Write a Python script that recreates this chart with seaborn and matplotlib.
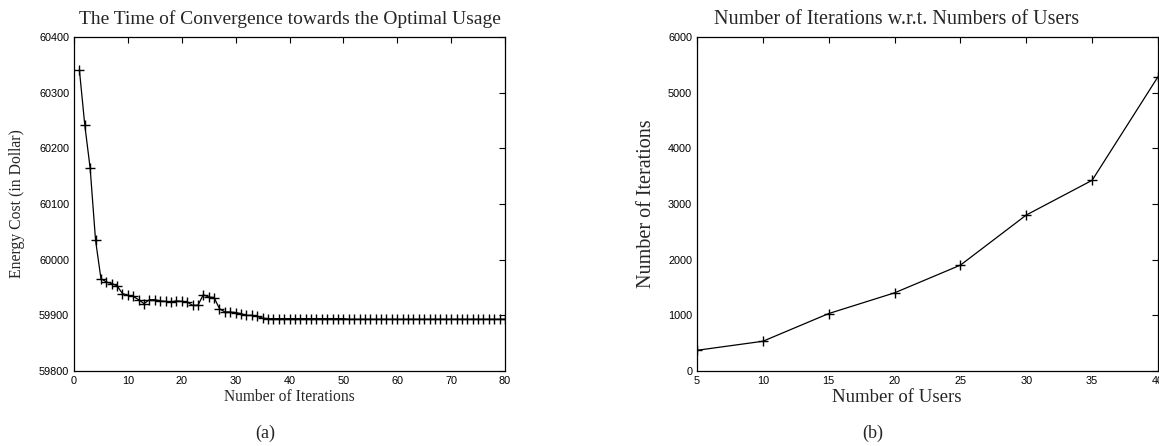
import matplotlib
matplotlib.use("Agg")
import matplotlib.pyplot as plt
import seaborn as sns
import numpy as np
import pandas as pd

# ---- data (a) ----
iterations = list(range(1, 81))
energy_cost = [60341, 60242, 60164, 60035, 59966, 59960, 59957, 59953, 59939, 59936,
               59934, 59928, 59921, 59928, 59928, 59926, 59925, 59924, 59926, 59925,
               59924, 59918, 59918, 59937, 59933, 59932, 59912, 59906, 59906, 59905,
               59903, 59900, 59900, 59898, 59895] + [59894] * 15 + [59893] * 30

# ---- data (b) ----
users = [5, 10, 15, 20, 25, 30, 35, 40]
num_iterations = [372, 534, 1032, 1404, 1902, 2802, 3426, 5286]

left_xticks = [0, 10, 20, 30, 40, 50, 60, 70, 80]
left_yticks = [59800, 59900, 60000, 60100, 60200, 60300, 60400]
right_xticks = [5, 10, 15, 20, 25, 30, 35, 40]
right_yticks = [0, 1000, 2000, 3000, 4000, 5000, 6000]

sns.set_theme(style="white")
plt.rcParams['font.family'] = ['Liberation Sans', 'DejaVu Sans']

W, H = 1159, 446
fig = plt.figure(figsize=(W / 100, H / 100), dpi=100)

def px_axes(x0, x1, y0, y1):
    return fig.add_axes([x0 / W, (H - y1) / H, (x1 - x0) / W, (y1 - y0) / H])

ax1 = px_axes(74, 505, 37, 371)
ax2 = px_axes(697, 1158, 37, 371)

df1 = pd.DataFrame({"it": iterations, "cost": energy_cost})
df2 = pd.DataFrame({"users": users, "iters": num_iterations})

common = dict(color="black", linewidth=0.9, marker="+", markersize=7.5,
              markeredgewidth=1.0, markeredgecolor="black")
sns.lineplot(data=df1, x="it", y="cost", ax=ax1, **common)
sns.lineplot(data=df2, x="users", y="iters", ax=ax2, **common)

serif = ['Liberation Serif', 'DejaVu Serif']

for ax in (ax1, ax2):
    ax.tick_params(direction="in", top=True, right=True, length=4, width=0.8,
                   labelsize=7.8, pad=3.5, colors="black")
    for s in ax.spines.values():
        s.set_color("black")
        s.set_linewidth(0.9)
    ax.grid(False)

ax1.set_xlim(0, 80)
ax1.set_ylim(59800, 60400)
ax1.set_xticks(left_xticks)
ax1.set_yticks(left_yticks)
ax1.set_xlabel("Number of Iterations", family=serif, fontsize=11.2, labelpad=2)
ax1.set_ylabel("Energy Cost (in Dollar)", family=serif, fontsize=11.3, labelpad=10)
ax1.set_title("The Time of Convergence towards the Optimal Usage", family=serif,
              fontsize=14, pad=9)

ax2.set_xlim(5, 40)
ax2.set_ylim(0, 6000)
ax2.set_xticks(right_xticks)
ax2.set_yticks(right_yticks)
ax2.set_xlabel("Number of Users", family=serif, fontsize=13.5, labelpad=2)
ax2.xaxis.label.set_x((897 - 697) / 461)
ax2.set_ylabel("Number of Iterations", family=serif, fontsize=14.5, labelpad=8.5)
ax2.set_title("Number of Iterations w.r.t. Numbers of Users", family=serif,
              fontsize=14.5, pad=9, x=(897 - 697) / 461)

fig.text(265 / W, 1 - 433 / H, "(a)", family=serif, fontsize=13, ha="center", va="center")
fig.text(873 / W, 1 - 433 / H, "(b)", family=serif, fontsize=13, ha="center", va="center")

fig.savefig("out.png", dpi=100)
